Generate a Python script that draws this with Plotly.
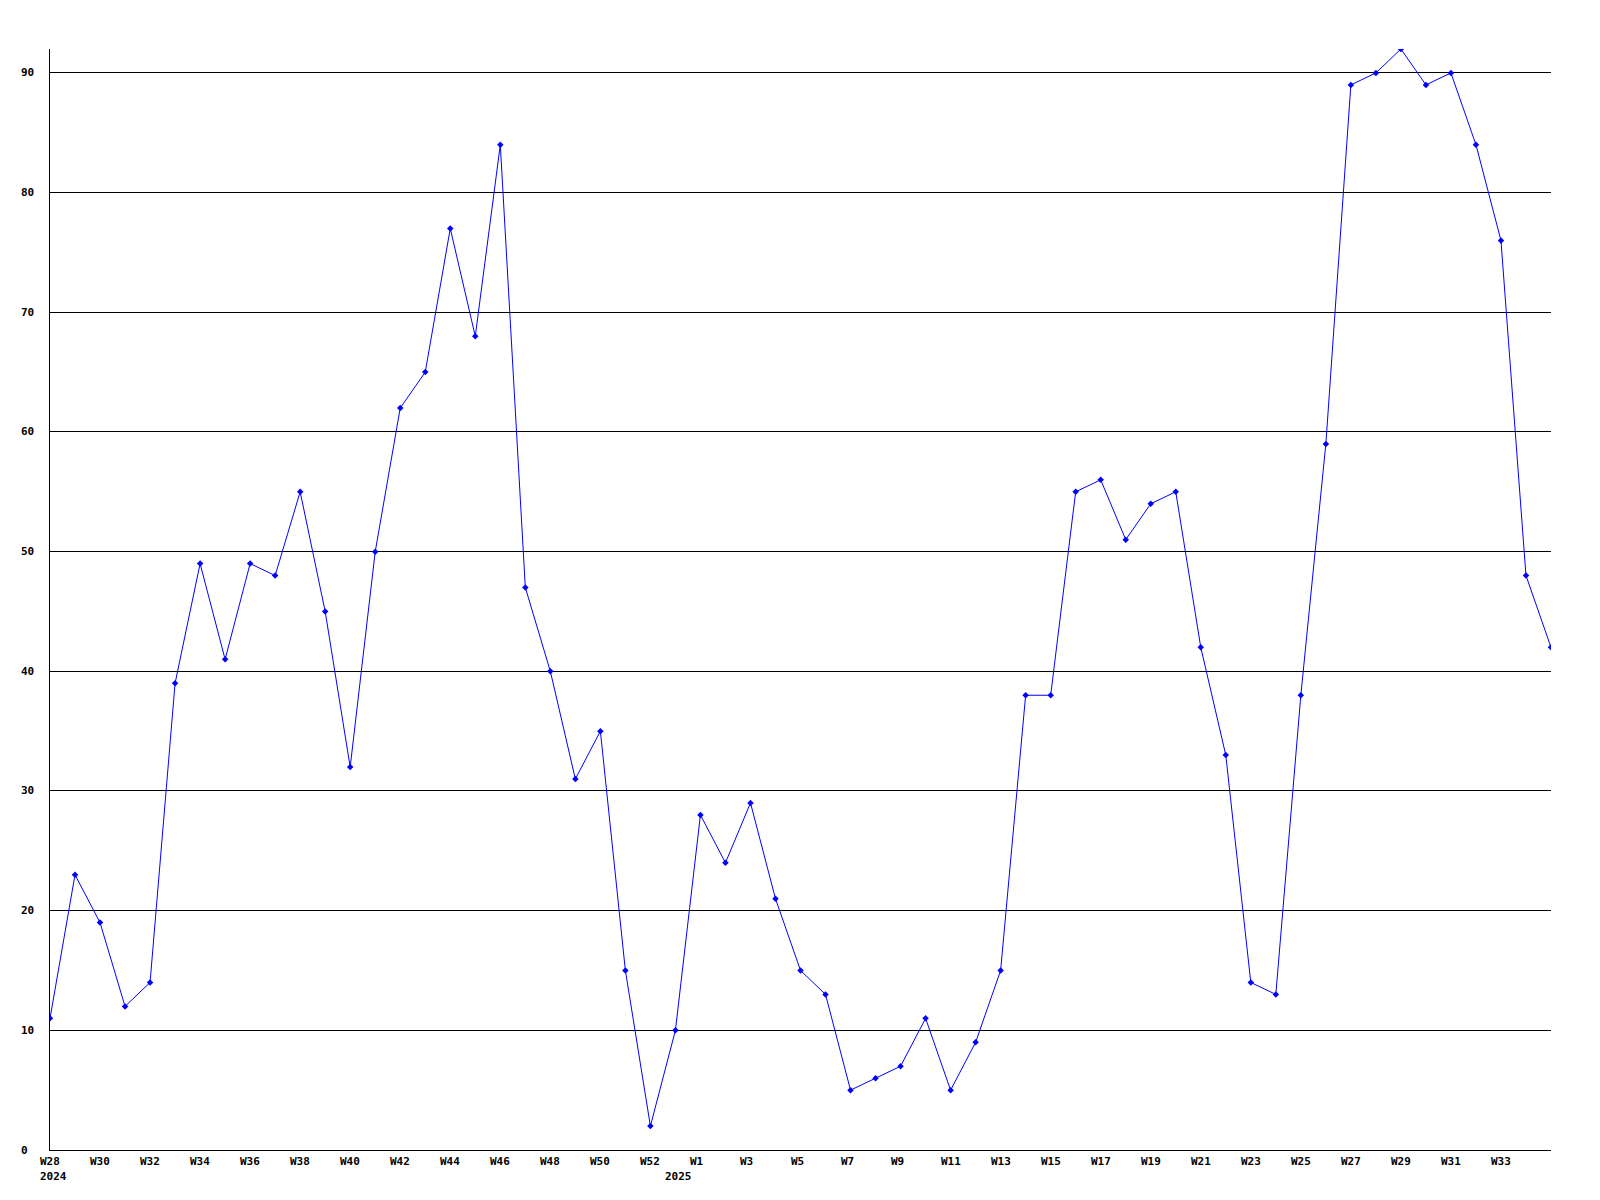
import plotly.graph_objects as go

weeks_2024 = [f"W{w}" for w in range(28, 53)]
weeks_gap = [""]
weeks_2025 = [f"W{w}" for w in range(1, 36)]
week_labels = weeks_2024 + weeks_gap + weeks_2025

values = [11, 23, 19, 12, 14, 39, 49, 41, 49, 48, 55, 45, 32, 50, 62, 65, 77, 68, 84, 47,
          40, 31, 35, 15, 2, 10, 28, 24, 29, 21, 15, 13, 5, 6, 7, 11, 5, 9, 15, 38,
          38, 55, 56, 51, 54, 55, 42, 33, 14, 13, 38, 59, 89, 90, 92, 89, 90, 84, 76, 48, 42]

year_labels = ["2024", "2025"]
year_start_idx = [0, 25]

y_ticks = list(range(0, 100, 10))

x_idx = list(range(len(values)))
tick_idx = [i for i in x_idx[::2] if i < len(values) - 1]

font = dict(family="DejaVu Sans Mono", size=11, color="black", weight="bold")

fig = go.Figure(go.Scatter(
    x=x_idx, y=values, mode="lines+markers",
    line=dict(color="#0000ff", width=1),
    marker=dict(symbol="diamond", size=5, color="#0000ff"),
    hoverinfo="skip",
))

annotations = []
for i in tick_idx:
    annotations.append(dict(
        x=i, y=0, xref="x", yref="paper", text=week_labels[i], showarrow=False,
        xanchor="left", yanchor="top", xshift=-12, yshift=-3, font=font,
    ))
for lab, i in zip(year_labels, year_start_idx):
    annotations.append(dict(
        x=i, y=0, xref="x", yref="paper", text=lab, showarrow=False,
        xanchor="left", yanchor="top", xshift=-12, yshift=-18, font=font,
    ))
for v in y_ticks:
    annotations.append(dict(
        x=0, y=v, xref="paper", yref="y", text=str(v), showarrow=False,
        xanchor="left", yanchor="middle", xshift=-31, font=font,
    ))

fig.update_layout(
    width=1600, height=1200,
    margin=dict(l=50, r=49, t=49, b=50),
    paper_bgcolor="white", plot_bgcolor="white",
    showlegend=False,
    font=font,
    annotations=annotations,
)
fig.update_xaxes(
    range=[0, len(values) - 1], tickvals=tick_idx, showticklabels=False,
    showgrid=False, zeroline=False, showline=True, linecolor="black", linewidth=1,
    ticks="",
)
fig.update_yaxes(
    range=[0, 92], tickvals=y_ticks, showticklabels=False,
    showgrid=True, gridcolor="black", gridwidth=1, zeroline=False,
    showline=True, linecolor="black", linewidth=1,
    ticks="",
)

fig.write_html("out.html", config={"displayModeBar": False},
               post_script="document.body.style.margin='0';")
